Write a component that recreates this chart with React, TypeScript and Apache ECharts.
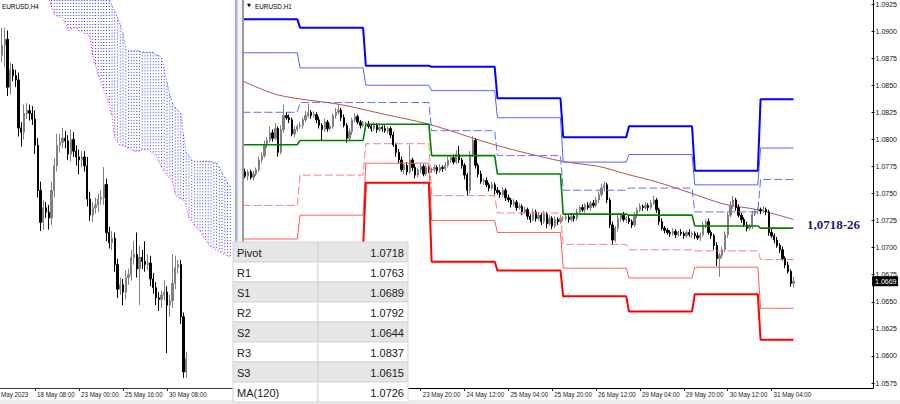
import { useEffect, useRef } from 'react';
import * as echarts from 'echarts';

// ================= Right panel: EURUSD,H1 =================
const h1Days = ['19 May', '22 May', '23 May', '24 May', '25 May', '26 May', '29 May', '30 May', '31 May'];
const h1StartHour = [3, 0, 0, 0, 0, 0, 0, 0, 0];
const h1FirstOpen = 1.0768;

const h1Close19 = [1.0770, 1.0766, 1.0770, 1.0765, 1.0768, 1.0772, 1.0781, 1.0785, 1.0795, 1.0799, 1.0806, 1.0801, 1.0810, 1.0788, 1.0809, 1.0822, 1.0820, 1.0818, 1.0805, 1.0809, 1.0812];
const h1Close22 = [1.0813, 1.0818, 1.0822, 1.0825, 1.0822, 1.0823, 1.0818, 1.0813, 1.0809, 1.0816, 1.0810, 1.0812, 1.0822, 1.0825, 1.0827, 1.0820, 1.0813, 1.0801, 1.0807, 1.0818, 1.0821, 1.0816, 1.0813, 1.0814];
const h1Close23 = [1.0814, 1.0812, 1.0810, 1.0813, 1.0809, 1.0811, 1.0810, 1.0808, 1.0810, 1.0804, 1.0795, 1.0788, 1.0781, 1.0772, 1.0776, 1.0770, 1.0781, 1.0774, 1.0767, 1.0772, 1.0775, 1.0768, 1.0774, 1.0772];
const h1Close24 = [1.0772, 1.0774, 1.0771, 1.0774, 1.0773, 1.0776, 1.0781, 1.0783, 1.0779, 1.0786, 1.0781, 1.0776, 1.0767, 1.0753, 1.0786, 1.0799, 1.0776, 1.0768, 1.0761, 1.0762, 1.0758, 1.0755, 1.0758, 1.0753];
const h1Close25 = [1.0751, 1.0749, 1.0753, 1.0746, 1.0744, 1.0740, 1.0742, 1.0737, 1.0738, 1.0733, 1.0735, 1.0729, 1.0726, 1.0733, 1.0727, 1.0730, 1.0724, 1.0731, 1.0722, 1.0727, 1.0720, 1.0726, 1.0724, 1.0727];
const h1Close26 = [1.0727, 1.0728, 1.0726, 1.0729, 1.0727, 1.0733, 1.0737, 1.0735, 1.0739, 1.0737, 1.0741, 1.0739, 1.0744, 1.0749, 1.0755, 1.0758, 1.0744, 1.0721, 1.0707, 1.0718, 1.0727, 1.0730, 1.0726, 1.0727];
const h1Close29 = [1.0724, 1.0721, 1.0730, 1.0735, 1.0738, 1.0737, 1.0739, 1.0737, 1.0741, 1.0744, 1.0735, 1.0724, 1.0718, 1.0716, 1.0714, 1.0713, 1.0715, 1.0712, 1.0714, 1.0713, 1.0711, 1.0714, 1.0712, 1.0713];
const h1Close30 = [1.0711, 1.0709, 1.0712, 1.0721, 1.0724, 1.0714, 1.0711, 1.0702, 1.0690, 1.0693, 1.0698, 1.0712, 1.0730, 1.0739, 1.0744, 1.0737, 1.0730, 1.0726, 1.0721, 1.0718, 1.0720, 1.0731, 1.0734, 1.0735];
const h1Close31 = [1.0734, 1.0735, 1.0733, 1.0714, 1.0711, 1.0707, 1.0702, 1.0698, 1.0690, 1.0684, 1.0678, 1.0667, 1.0669];
const h1Closes = [h1Close19, h1Close22, h1Close23, h1Close24, h1Close25, h1Close26, h1Close29, h1Close30, h1Close31];

// wick lengths in pips beyond the candle body
const h1WickUp = [
  [2, 3, 2, 2, 3, 2, 3, 3, 4, 3, 6, 3, 5, 2, 4, 10, 3, 3, 2, 3, 2],
  [3, 2, 4, 8, 2, 3, 2, 3, 2, 3, 2, 3, 2, 4, 6, 2, 3, 2, 3, 2, 3, 2, 2, 3],
  [2, 3, 2, 3, 2, 3, 2, 3, 2, 2, 3, 2, 3, 3, 2, 3, 14, 2, 3, 2, 3, 2, 3, 2],
  [2, 3, 2, 3, 2, 3, 3, 2, 3, 4, 8, 2, 2, 2, 3, 4, 2, 2, 3, 2, 3, 2, 3, 2],
  [3, 2, 3, 2, 3, 2, 3, 2, 3, 2, 3, 2, 2, 3, 2, 3, 2, 3, 2, 3, 2, 3, 2, 3],
  [2, 3, 2, 3, 2, 3, 2, 3, 2, 3, 2, 3, 3, 3, 4, 3, 2, 2, 3, 2, 3, 2, 3, 2],
  [3, 2, 3, 2, 3, 2, 3, 2, 3, 4, 2, 2, 3, 2, 2, 2, 3, 2, 2, 3, 2, 2, 3, 2],
  [2, 3, 2, 3, 2, 3, 2, 2, 3, 2, 3, 3, 3, 4, 4, 2, 3, 2, 2, 3, 2, 3, 2, 2],
  [2, 3, 2, 2, 3, 2, 3, 2, 3, 2, 3, 2, 4],
];
const h1WickDn = [
  [3, 2, 4, 2, 3, 2, 2, 3, 2, 3, 2, 3, 2, 4, 2, 3, 2, 3, 2, 3, 2],
  [2, 3, 2, 2, 3, 2, 3, 3, 10, 2, 3, 2, 2, 3, 2, 3, 2, 4, 2, 3, 2, 2, 3, 2],
  [3, 2, 3, 2, 3, 2, 3, 2, 3, 3, 2, 4, 3, 2, 4, 3, 2, 3, 3, 2, 3, 2, 2, 3],
  [3, 2, 3, 2, 3, 2, 2, 3, 2, 2, 3, 3, 4, 5, 3, 2, 3, 3, 2, 3, 2, 3, 2, 4],
  [2, 3, 2, 3, 2, 3, 2, 3, 2, 3, 2, 3, 3, 2, 3, 2, 3, 2, 4, 2, 3, 2, 3, 2],
  [3, 2, 3, 2, 3, 2, 3, 2, 3, 2, 3, 2, 2, 3, 2, 3, 3, 3, 4, 2, 3, 3, 2, 3],
  [2, 3, 2, 3, 2, 3, 2, 3, 2, 2, 3, 3, 2, 3, 2, 3, 2, 3, 2, 2, 3, 2, 2, 3],
  [3, 2, 3, 2, 3, 2, 3, 4, 7, 17, 3, 2, 3, 2, 3, 3, 2, 3, 2, 3, 2, 3, 2, 3],
  [3, 2, 3, 3, 2, 3, 2, 3, 2, 3, 2, 3, 4],
];

// daily pivot levels (one per day of h1Days)
const pivotR3 = [1.0911, 1.0903, 1.0868, 1.0867, 1.0838, 1.0802, 1.0812, 1.0771, 1.0837];
const pivotR2 = [1.0880, 1.0866, 1.0850, 1.0845, 1.0820, 1.0779, 1.0786, 1.0758, 1.0792];
const pivotR1 = [1.0825, 1.0834, 1.0834, 1.0808, 1.0785, 1.0753, 1.0755, 1.0733, 1.0763];
const pivotP = [1.0795, 1.0799, 1.0814, 1.0785, 1.0768, 1.0731, 1.0730, 1.0720, 1.0718];
const pivotS1 = [1.0739, 1.0767, 1.0796, 1.0748, 1.0732, 1.0703, 1.0698, 1.0697, 1.0689];
const pivotS2 = [1.0708, 1.0730, 1.0778, 1.0725, 1.0714, 1.0681, 1.0672, 1.0682, 1.0644];
const pivotS3 = [1.0653, 1.0700, 1.0760, 1.0687, 1.0679, 1.0655, 1.0641, 1.0657, 1.0615];

// MA(120) read at these bar numbers
const maBars = [0, 13, 36, 52, 68, 92, 116, 130, 140, 152, 164, 176, 188, 201];
const maValues = [1.0854, 1.0841, 1.0832, 1.0823, 1.0814, 1.0795, 1.0780, 1.0775, 1.0768, 1.0760, 1.0750, 1.0740, 1.0735, 1.0726];

const priceAxisMin = 1.0575;
const priceAxisMax = 1.09287;
const priceAxisStep = 0.0025;

const tableLabels = ['Pivot', 'R1', 'S1', 'R2', 'S2', 'R3', 'S3', 'MA(120)'];
const tableValues = ['1.0718', '1.0763', '1.0689', '1.0792', '1.0644', '1.0837', '1.0615', '1.0726'];
const levelNote = '1,0718-26';
const titleH1 = 'EURUSD,H1';
const titleH4 = 'EURUSD,H4';
const firstDateH4 = 'May 2023';
// time labels left of this one are hidden under the stats table
const firstVisibleH1Label = '23 May 20:00';

// ================= Left panel: EURUSD,H4 =================
const h4Days = ['16 May', '17 May', '18 May', '19 May', '22 May', '23 May', '24 May', '25 May', '26 May', '29 May', '30 May', '31 May'];
const h4StartHour = [8, 0, 0, 0, 0, 0, 0, 0, 0, 0, 0, 0];
const h4EndHour = [20, 20, 20, 20, 20, 20, 20, 20, 20, 20, 20, 12];
const h4FirstOpen = 1.0879;
const h4Closes = [
  1.0886, 1.0890, 1.0857, 1.0869, 1.0865, 1.0862, 1.0829, 1.0826, 1.0839, 1.0841,
  1.0839, 1.0835, 1.0817, 1.0786, 1.0764, 1.0774, 1.0771, 1.0767, 1.0786, 1.0803,
  1.0817, 1.0819, 1.0822, 1.0820, 1.0811, 1.0821, 1.0813, 1.0809, 1.0807, 1.0809,
  1.0803, 1.0780, 1.0769, 1.0774, 1.0776, 1.0780, 1.0781, 1.0790, 1.0757, 1.0750,
  1.0753, 1.0735, 1.0718, 1.0721, 1.0716, 1.0726, 1.0728, 1.0740, 1.0742, 1.0732,
  1.0740, 1.0737, 1.0735, 1.0736, 1.0725, 1.0719, 1.0712, 1.0711, 1.0714, 1.0716,
  1.0707, 1.0710, 1.0722, 1.0733, 1.0735, 1.0699, 1.0661, 1.0670,
];
const h4WickUp = [
  12, 8, 6, 5, 4, 4, 5, 4, 6, 5, 4, 5, 6, 5, 6, 5, 4, 5, 6, 5,
  8, 6, 7, 5, 4, 7, 5, 4, 5, 4, 4, 6, 5, 4, 5, 4, 5, 12, 4, 4,
  5, 4, 4, 5, 4, 5, 4, 5, 9, 15, 8, 5, 14, 6, 5, 4, 4, 4, 3, 8,
  4, 4, 20, 8, 3, 3, 3, 5,
];
const h4WickDn = [
  5, 15, 6, 5, 4, 5, 6, 10, 5, 4, 5, 4, 6, 5, 6, 5, 4, 8, 5, 5,
  4, 5, 4, 5, 4, 5, 4, 6, 10, 5, 4, 5, 4, 5, 4, 5, 4, 5, 6, 4,
  5, 5, 6, 4, 9, 5, 5, 4, 5, 6, 25, 5, 5, 4, 5, 4, 5, 8, 6, 4,
  33, 8, 5, 4, 4, 5, 4, 4,
];
const h4AxisMin = 1.065;
const h4AxisMax = 1.0917;
// Ichimoku cloud (shifted forward), starting at H4 bar number cloudStart
const cloudStart = 17;
const spanA = [
  1.0919, 1.0912, 1.0907, 1.0906, 1.0905, 1.0905, 1.0901, 1.0896, 1.0897, 1.0898,
  1.0898, 1.0896, 1.0895, 1.0894, 1.0894, 1.0891, 1.0879, 1.0872, 1.0865, 1.0861,
  1.0855, 1.0851, 1.0845, 1.0837, 1.0822, 1.0819, 1.0817, 1.0817, 1.0816, 1.0815,
  1.0814, 1.0813, 1.0813, 1.0813, 1.0814, 1.0814, 1.0814, 1.0813, 1.0811, 1.0809,
  1.0806, 1.0802, 1.0799, 1.0796, 1.0794, 1.0792, 1.0783, 1.0781, 1.0780, 1.0780,
  1.0775, 1.0767, 1.0765, 1.0762, 1.0760, 1.0758, 1.0755, 1.0752, 1.0749, 1.0747,
  1.0746, 1.0745, 1.0744, 1.0743, 1.0742, 1.0741, 1.0740,
];
const spanB = [
  1.0944, 1.0944, 1.0944, 1.0944, 1.0944, 1.0944, 1.0944, 1.0944, 1.0944, 1.0944,
  1.0944, 1.0944, 1.0944, 1.0944, 1.0927, 1.0927, 1.0927, 1.0927, 1.0927, 1.0927,
  1.0927, 1.0927, 1.0917, 1.0913, 1.0909, 1.0905, 1.0900, 1.0894, 1.0883, 1.0882,
  1.0882, 1.0882, 1.0882, 1.0882, 1.0881, 1.0881, 1.0881, 1.0881, 1.0881, 1.0879,
  1.0879, 1.0877, 1.0869, 1.0860, 1.0852, 1.0846, 1.0843, 1.0841, 1.0839, 1.0824,
  1.0812, 1.0810, 1.0807, 1.0806, 1.0806, 1.0806, 1.0806, 1.0806, 1.0806, 1.0806,
  1.0805, 1.0805, 1.0802, 1.0798, 1.0795, 1.0791, 1.0789,
];

// ================= helpers =================
const AXIS_FONT = "'Liberation Sans', Arial, sans-serif";
const NARROW = 0.78; // horizontal squeeze of the small terminal font
const LABEL_SIZE = 8;
const BAR = 2.75; // px per bar in both panels
const H1_SLOTS = 230;
const H4_SLOTS = 84;

const pad2 = (n: number) => (n < 10 ? '0' : '') + n;

function buildH1() {
  const labels: string[] = [];
  const ohlc: number[][] = [];
  const dayIdx: number[] = [];
  let prev = h1FirstOpen;
  h1Days.forEach((day, d) => {
    h1Closes[d].forEach((c, k) => {
      labels.push(`${day} ${pad2(h1StartHour[d] + k)}:00`);
      const o = prev;
      const hi = Math.max(o, c) + h1WickUp[d][k] * 0.0001;
      const lo = Math.min(o, c) - h1WickDn[d][k] * 0.0001;
      ohlc.push([o, c, +lo.toFixed(5), +hi.toFixed(5)]);
      dayIdx.push(d);
      prev = c;
    });
  });
  return { labels, ohlc, dayIdx };
}

function buildH4() {
  const labels: string[] = [];
  h4Days.forEach((day, d) => {
    for (let h = h4StartHour[d]; h <= h4EndHour[d]; h += 4) labels.push(`${day} ${pad2(h)}:00`);
  });
  const ohlc: number[][] = [];
  let prev = h4FirstOpen;
  h4Closes.forEach((c, k) => {
    const o = prev;
    const hi = Math.max(o, c) + h4WickUp[k] * 0.0001;
    const lo = Math.min(o, c) - h4WickDn[k] * 0.0001;
    ohlc.push([o, c, +lo.toFixed(5), +hi.toFixed(5)]);
    prev = c;
  });
  return { labels, ohlc };
}

// time labels drawn through the category axis, squeezed like the terminal font
function timeLabelSeries(axisIndex: number, labels: string[], indices: number[], yValue: number, below: number) {
  return {
    type: 'custom',
    xAxisIndex: axisIndex,
    yAxisIndex: axisIndex,
    silent: true,
    clip: false,
    z: 20,
    data: indices.map((i) => [i, yValue]),
    renderItem: (params: any, api: any) => {
      const idx = api.value(0);
      const p = api.coord([idx, yValue]);
      const cs = params.coordSys;
      return {
        type: 'text',
        x: p[0] + 2,
        y: cs.y + cs.height + below,
        scaleX: NARROW,
        style: { text: labels[idx], fontSize: LABEL_SIZE, fontFamily: AXIS_FONT, fill: '#222', verticalAlign: 'middle' },
      };
    },
  };
}

function buildOption() {
  const h1 = buildH1();
  const h4 = buildH4();
  const nH1 = h1.labels.length;
  const nH4 = h4.labels.length;
  const h1Cats = h1.labels.concat(Array.from({ length: H1_SLOTS - nH1 }, (_, k) => 'f' + k));
  const h4Cats = h4.labels.concat(Array.from({ length: H4_SLOTS - nH4 }, (_, k) => 'g' + k));
  const firstH1 = h1.labels.indexOf(firstVisibleH1Label);
  const h1Anchor = firstH1 % 16;
  const h4Anchor = h4.labels.indexOf('18 May 08:00') % 16;
  const showH1 = (i: number) => i < nH1 && (i - h1Anchor) % 16 === 0;
  const showH4 = (i: number) => i < nH4 && (i - h4Anchor) % 16 === 0;
  const h1LabelIdx = h1.labels.map((_, i) => i).filter((i) => showH1(i) && i >= firstH1);
  const h4LabelIdx = h4.labels.map((_, i) => i).filter((i) => showH4(i));
  const lastClose = h1.ohlc[nH1 - 1][1];

  const levels = [
    { name: 'R3', v: pivotR3, color: '#0000ff', width: 2, type: 'solid' },
    { name: 'R2', v: pivotR2, color: '#5562ff', width: 1, type: 'solid' },
    { name: 'R1', v: pivotR1, color: '#5a6cff', width: 1, type: [8, 3] },
    { name: 'P', v: pivotP, color: '#008000', width: 1.6, type: 'solid' },
    { name: 'S1', v: pivotS1, color: '#ff7a7a', width: 1, type: [8, 3] },
    { name: 'S2', v: pivotS2, color: '#ff5a5a', width: 1, type: 'solid' },
    { name: 'S3', v: pivotS3, color: '#ff0000', width: 2, type: 'solid' },
  ];

  const candleStyle = {
    color: '#808080',
    color0: '#000000',
    borderColor: '#808080',
    borderColor0: '#000000',
    borderWidth: 1,
  };

  const cloudData = spanA.map((a, k) => [cloudStart + k, a, spanB[k]]);

  const series: any[] = [
    // ---- left panel ----
    {
      type: 'custom',
      xAxisIndex: 0,
      yAxisIndex: 0,
      silent: true,
      data: cloudData,
      encode: { x: 0, y: [1, 2] },
      renderItem: (params: any, api: any) => {
        const pa = api.coord([api.value(0), api.value(1)]);
        const pb = api.coord([api.value(0), api.value(2)]);
        const cs = params.coordSys;
        const top = cs.y;
        const bot = cs.y + cs.height;
        const y1 = Math.max(top, Math.min(pa[1], pb[1]));
        const y2 = Math.min(bot, Math.max(pa[1], pb[1]));
        if (y2 <= y1) return null;
        return {
          type: 'line',
          shape: { x1: pa[0], y1, x2: pa[0], y2 },
          style: { stroke: '#3a3aff', lineWidth: 1, lineDash: [1, 2] },
        };
      },
    },
    {
      type: 'line',
      xAxisIndex: 0,
      yAxisIndex: 0,
      silent: true,
      showSymbol: false,
      data: spanA.map((a, k) => [cloudStart + k, a]),
      lineStyle: { color: '#ff00ff', width: 1, type: [1, 2] },
    },
    {
      type: 'line',
      xAxisIndex: 0,
      yAxisIndex: 0,
      silent: true,
      showSymbol: false,
      data: spanB.map((b, k) => [cloudStart + k, b]),
      lineStyle: { color: '#4a4aff', width: 1, type: [1, 2] },
    },
    {
      type: 'candlestick',
      xAxisIndex: 0,
      yAxisIndex: 0,
      barWidth: 1.8,
      data: h4.ohlc,
      itemStyle: candleStyle,
    },
    timeLabelSeries(0, h4.labels, h4LabelIdx, h4AxisMin, 7),
    // ---- right panel ----
    {
      type: 'line',
      xAxisIndex: 1,
      yAxisIndex: 1,
      silent: true,
      showSymbol: false,
      smooth: 0.3,
      data: maBars.map((b, k) => [b, maValues[k]]),
      lineStyle: { color: '#b5524a', width: 1 },
      z: 3,
    },
    {
      type: 'candlestick',
      xAxisIndex: 1,
      yAxisIndex: 1,
      barWidth: 1.8,
      data: h1.ohlc,
      itemStyle: candleStyle,
      z: 4,
    },
    ...levels.map((lv) => ({
      type: 'line',
      name: lv.name,
      xAxisIndex: 1,
      yAxisIndex: 1,
      silent: true,
      showSymbol: false,
      data: h1.dayIdx.map((d) => lv.v[d]),
      lineStyle: { color: lv.color, width: lv.width, type: lv.type },
      z: 5,
    })),
    timeLabelSeries(1, h1.labels, h1LabelIdx, priceAxisMin, 12),
    // current price tag on the price scale
    {
      type: 'custom',
      xAxisIndex: 1,
      yAxisIndex: 1,
      silent: true,
      clip: false,
      z: 30,
      data: [[nH1 - 1, lastClose]],
      renderItem: (params: any, api: any) => {
        const p = api.coord([api.value(0), api.value(1)]);
        const cs = params.coordSys;
        const x0 = cs.x + cs.width + 0.5;
        return {
          type: 'group',
          children: [
            { type: 'rect', shape: { x: x0, y: p[1] - 5, width: 26, height: 10 }, style: { fill: '#000' } },
            {
              type: 'text',
              x: x0 + 3,
              y: p[1] + 0.5,
              style: { text: lastClose.toFixed(4), fill: '#fff', fontSize: 7, fontFamily: AXIS_FONT, verticalAlign: 'middle' },
            },
          ],
        };
      },
    },
  ];

  const graphics: any[] = [];
  // frames
  graphics.push({ type: 'line', z: 50, shape: { x1: 0, y1: 388.5, x2: 233, y2: 388.5 }, style: { stroke: '#333', lineWidth: 1 } });
  graphics.push({ type: 'line', z: 50, shape: { x1: 244, y1: 388.5, x2: 873.5, y2: 388.5 }, style: { stroke: '#000', lineWidth: 1 } });
  graphics.push({ type: 'line', z: 50, shape: { x1: 873.5, y1: 0, x2: 873.5, y2: 388.5 }, style: { stroke: '#000', lineWidth: 1 } });
  // bottom strip
  graphics.push({ type: 'rect', z: 50, shape: { x: 0, y: 400, width: 900, height: 4 }, style: { fill: '#ececec' } });
  // splitter between windows
  graphics.push({ type: 'rect', z: 60, shape: { x: 233, y: 0, width: 11, height: 400 }, style: { fill: '#f4f4f4' } });
  graphics.push({ type: 'rect', z: 61, shape: { x: 235, y: 0, width: 2.5, height: 400 }, style: { fill: '#aab6c8' } });
  graphics.push({ type: 'rect', z: 61, shape: { x: 242, y: 0, width: 2, height: 400 }, style: { fill: '#9a9a9a' } });
  // titles
  graphics.push({ type: 'text', z: 70, x: 2, y: 6, scaleX: 0.85, style: { text: titleH4, fontSize: 7.5, fontFamily: AXIS_FONT, fill: '#000', verticalAlign: 'middle' } });
  graphics.push({ type: 'text', z: 70, x: 247, y: 5, style: { text: '▼', fontSize: 5, fontFamily: 'DejaVu Sans', fill: '#000', verticalAlign: 'middle' } });
  graphics.push({ type: 'text', z: 70, x: 255, y: 6, scaleX: 0.85, style: { text: titleH1, fontSize: 7.5, fontFamily: AXIS_FONT, fill: '#000', verticalAlign: 'middle' } });
  graphics.push({ type: 'text', z: 70, x: 1, y: 395, scaleX: NARROW, style: { text: firstDateH4, fontSize: LABEL_SIZE, fontFamily: AXIS_FONT, fill: '#222', verticalAlign: 'middle' } });
  // level note
  graphics.push({ type: 'text', z: 70, x: 807, y: 224, style: { text: levelNote, fontSize: 13, fontWeight: 'bold', fontFamily: "'Liberation Serif', 'DejaVu Serif', serif", fill: '#1c1c6e', verticalAlign: 'middle' } });
  // table
  const rowH = 20;
  const tTop = 242;
  tableLabels.forEach((lab, r) => {
    const y = tTop + r * rowH;
    const fill = r % 2 === 0 ? '#e6e6e6' : '#ffffff';
    graphics.push({ type: 'rect', z: 80, shape: { x: 233, y, width: 85, height: rowH }, style: { fill, stroke: '#d4d4d4', lineWidth: 1 } });
    graphics.push({ type: 'rect', z: 80, shape: { x: 318, y, width: 90, height: rowH }, style: { fill, stroke: '#d4d4d4', lineWidth: 1 } });
    graphics.push({ type: 'text', z: 81, x: 237, y: y + rowH / 2 + 0.5, style: { text: lab, fontSize: 11, fontFamily: "'Liberation Sans', Arial, sans-serif", fill: '#1a1a1a', verticalAlign: 'middle' } });
    graphics.push({ type: 'text', z: 81, x: 404, y: y + rowH / 2 + 0.5, style: { text: tableValues[r], fontSize: 11, fontFamily: "'Liberation Sans', Arial, sans-serif", fill: '#1a1a1a', align: 'right', verticalAlign: 'middle' } });
  });

  return {
    animation: false,
    backgroundColor: '#ffffff',
    grid: [
      { left: 2 - BAR / 2, top: 0, width: H4_SLOTS * BAR, height: 388, containLabel: false },
      { left: 242.5 - BAR / 2, top: 0, width: H1_SLOTS * BAR, height: 383, containLabel: false },
    ],
    xAxis: [
      {
        type: 'category',
        gridIndex: 0,
        data: h4Cats,
        boundaryGap: true,
        axisLine: { show: false },
        axisTick: { show: true, interval: (i: number) => showH4(i), alignWithLabel: true, length: 3, lineStyle: { color: '#333' } },
        axisLabel: { show: false },
        splitLine: { show: false },
      },
      {
        type: 'category',
        gridIndex: 1,
        data: h1Cats,
        boundaryGap: true,
        offset: 5,
        axisLine: { show: false },
        axisTick: { show: true, interval: (i: number) => showH1(i) && i >= firstH1, alignWithLabel: true, length: 3, lineStyle: { color: '#333' } },
        axisLabel: { show: false },
        splitLine: { show: false },
      },
    ],
    yAxis: [
      { type: 'value', gridIndex: 0, min: h4AxisMin, max: h4AxisMax, show: false, splitLine: { show: false } },
      {
        type: 'value',
        gridIndex: 1,
        position: 'right',
        min: priceAxisMin,
        max: priceAxisMax,
        interval: priceAxisStep,
        axisLine: { show: false },
        axisTick: { show: true, length: 3, lineStyle: { color: '#000' } },
        axisLabel: {
          showMaxLabel: false,
          margin: 4,
          fontSize: 7,
          fontFamily: AXIS_FONT,
          color: '#111',
          formatter: (v: number) => v.toFixed(4),
        },
        splitLine: { show: false },
      },
    ],
    series,
    graphic: { elements: graphics },
  };
}

export default function App() {
  const ref = useRef<HTMLDivElement>(null);
  useEffect(() => {
    if (!ref.current) return;
    const chart = echarts.init(ref.current, null, { renderer: 'svg' });
    chart.setOption(buildOption() as any);
    return () => chart.dispose();
  }, []);
  return (
    <div
      ref={ref}
      style={{ position: 'fixed', left: 0, top: 0, width: 900, height: 404, background: '#ffffff' }}
    />
  );
}
